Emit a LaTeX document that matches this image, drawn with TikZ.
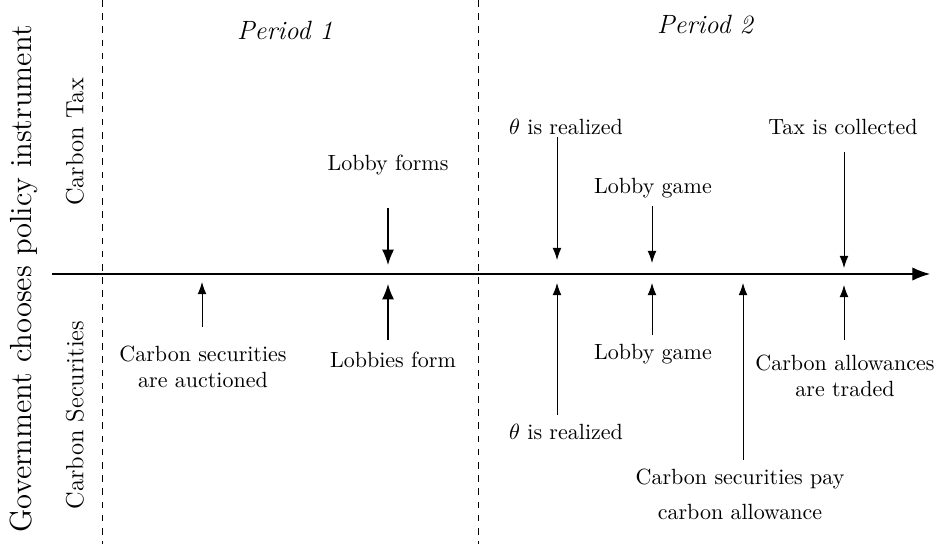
\documentclass[tikz,border=0pt]{standalone}
\usetikzlibrary{arrows.meta}
\begin{document}
\begin{tikzpicture}[x=0.4545pt,y=-0.4545pt,
  lbl/.style={inner sep=1pt,font=\normalsize},
  side/.style={rotate=90,font=\fontsize{11.3}{13.6}\selectfont},
  evarrow/.style={-{Latex[length=5.5pt,width=4pt]},line width=0.4pt},
  bigarrow/.style={-{Latex[length=7pt,width=5.5pt]},line width=0.6pt},
  sep/.style={dashed,line width=0.4pt}]
\useasboundingbox (0,0) rectangle (936,544);
% separators
\draw[sep] (102,0) -- (102,544);
\draw[sep] (478,0) -- (478,544);
% axis
\coordinate (ax0) at (52,274);
\coordinate (ax1) at (930,274);
\draw[-{Latex[length=8pt,width=6pt]},line width=0.5pt] (ax0) -- (ax1);
% side labels
\node[rotate=90,font=\fontsize{13.9}{16}\selectfont] (gov) at (24,279) {Government chooses policy instrument};
\node[side] (tax) at (75,142) {Carbon Tax};
\node[side] (sec) at (75,415) {Carbon Securities};
% periods
\node[font=\large\itshape] (p1) at (285,30) {Period 1};
\node[font=\large\itshape] (p2) at (705,25) {Period 2};
% top events
\node[lbl] (lf) at (388,165) {Lobby forms};
\node[lbl] (thT) at (566,127) {$\theta$ is realized};
\node[lbl] (lgT) at (653,188) {Lobby game};
\node[lbl] (tc) at (843,127) {Tax is collected};
\coordinate (lfA) at (388,208); \coordinate (lfB) at (388,265);
\coordinate (thTA) at (557,137); \coordinate (thTB) at (557,260);
\coordinate (lgTA) at (652,206); \coordinate (lgTB) at (652,263);
\coordinate (tcA) at (844,152); \coordinate (tcB) at (844,268);
\draw[bigarrow] (lfA) -- (lfB);
\draw[evarrow] (thTA) -- (thTB);
\draw[evarrow] (lgTA) -- (lgTB);
\draw[evarrow] (tcA) -- (tcB);
% bottom events
\node[lbl,align=center] (csa) at (203,367) {Carbon securities\\are auctioned};
\node[lbl] (lb) at (393,360) {Lobbies form};
\node[lbl] (thB) at (566,432) {$\theta$ is realized};
\node[lbl] (lgB) at (653,354) {Lobby game};
\node[lbl,align=center] (cat) at (845,376) {Carbon allowances\\are traded};
\node[lbl,align=center] (csp) at (740,494) {Carbon securities pay\\[4pt]carbon allowance};
\coordinate (csaA) at (202,327); \coordinate (csaB) at (202,282);
\coordinate (lbA) at (388,340); \coordinate (lbB) at (388,284);
\coordinate (thBA) at (557,415); \coordinate (thBB) at (557,283);
\coordinate (lgBA) at (652,335); \coordinate (lgBB) at (652,283);
\coordinate (cspA) at (743,460); \coordinate (cspB) at (743,283);
\coordinate (catA) at (844,340); \coordinate (catB) at (844,285);
\draw[evarrow] (csaA) -- (csaB);
\draw[bigarrow] (lbA) -- (lbB);
\draw[evarrow] (thBA) -- (thBB);
\draw[evarrow] (lgBA) -- (lgBB);
\draw[evarrow] (cspA) -- (cspB);
\draw[evarrow] (catA) -- (catB);
\end{tikzpicture}
\end{document}
